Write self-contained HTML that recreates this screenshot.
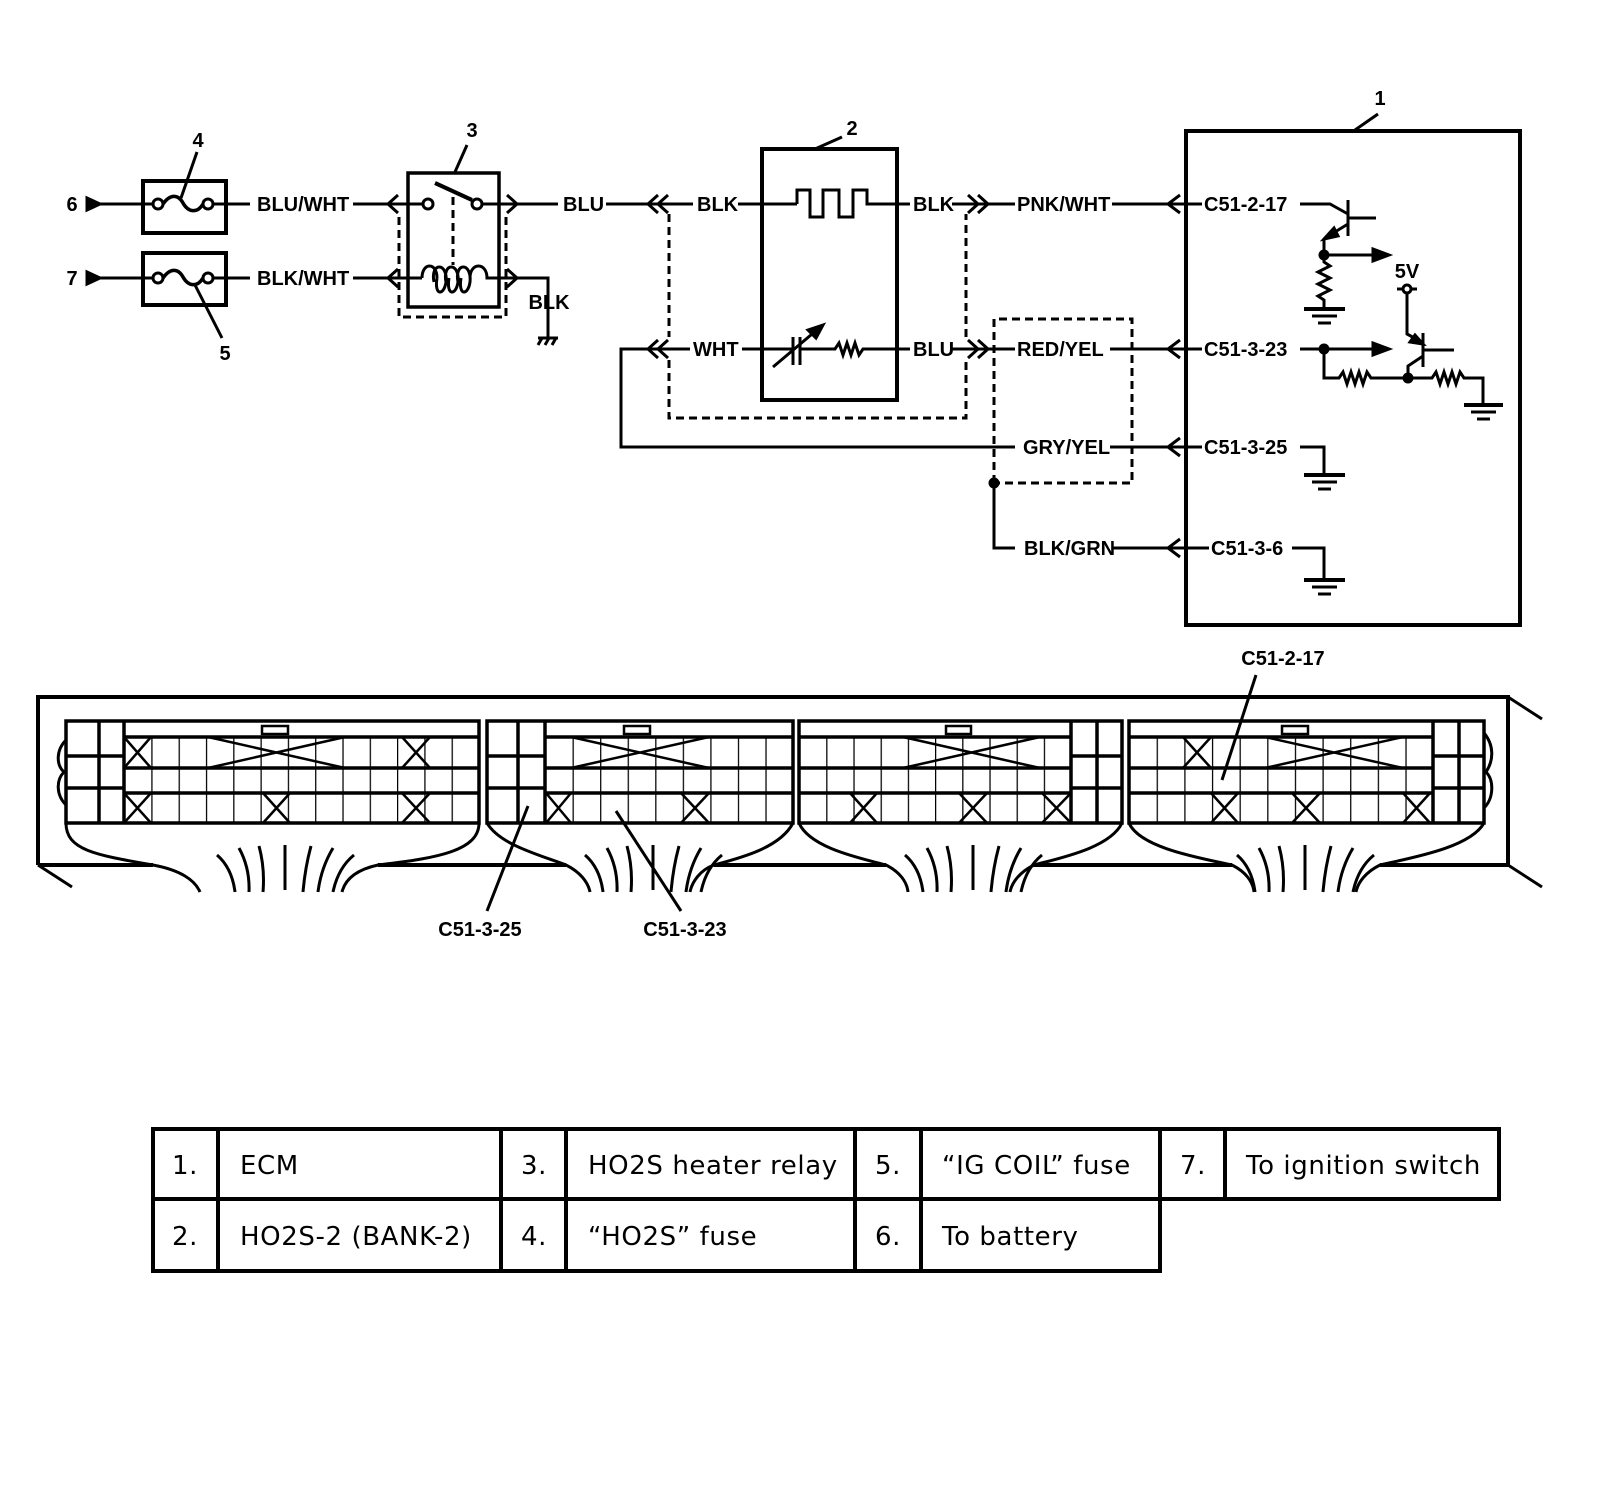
<!DOCTYPE html>
<html><head><meta charset="utf-8"><style>
html,body{margin:0;padding:0;background:#fff}
svg{display:block}
.w{font-family:"Liberation Sans",Arial,sans-serif;font-weight:bold;font-size:20px;fill:#000}
.t{font-family:"DejaVu Sans","Liberation Sans",sans-serif;font-size:26px;letter-spacing:0.6px;fill:#000}
</style></head><body>
<svg width="1600" height="1496" viewBox="0 0 1600 1496" xmlns="http://www.w3.org/2000/svg">
<defs>
<pattern id="pA" x="124" y="0" width="27.3" height="10" patternUnits="userSpaceOnUse"><line x1="0" y1="0" x2="0" y2="10" stroke="#000" stroke-width="2.5"/></pattern>
<pattern id="pB" x="545" y="0" width="27.55" height="10" patternUnits="userSpaceOnUse"><line x1="0" y1="0" x2="0" y2="10" stroke="#000" stroke-width="2.5"/></pattern>
<pattern id="pC" x="799" y="0" width="27.2" height="10" patternUnits="userSpaceOnUse"><line x1="0" y1="0" x2="0" y2="10" stroke="#000" stroke-width="2.5"/></pattern>
<pattern id="pD" x="1129" y="0" width="27.64" height="10" patternUnits="userSpaceOnUse"><line x1="0" y1="0" x2="0" y2="10" stroke="#000" stroke-width="2.5"/></pattern>
</defs>
<g fill="none" stroke="#000" stroke-width="3" stroke-linecap="butt">
<!-- row 6 -->
<polygon points="87,198 100,204 87,210" fill="#000"/>
<line x1="100" y1="204" x2="153" y2="204"/>
<rect x="143" y="181" width="83" height="52" stroke-width="4"/>
<circle cx="158" cy="204" r="5"/><circle cx="208" cy="204" r="5"/>
<path d="M163 204 C170 194,178 194,183 203 S197 214,203 204" stroke-width="3.5"/>
<line x1="213" y1="204" x2="250" y2="204"/>
<!-- row 7 -->
<polygon points="87,272 100,278 87,284" fill="#000"/>
<line x1="100" y1="278" x2="153" y2="278"/>
<rect x="143" y="253" width="83" height="52" stroke-width="4"/>
<circle cx="158" cy="278" r="5"/><circle cx="208" cy="278" r="5"/>
<path d="M163 278 C170 268,178 268,183 277 S197 288,203 278" stroke-width="3.5"/>
<line x1="213" y1="278" x2="250" y2="278"/>
<!-- leaders -->
<line x1="197" y1="152" x2="181" y2="198"/>
<line x1="222" y1="338" x2="195" y2="285"/>
<line x1="467" y1="145" x2="455" y2="172"/>
<line x1="815" y1="149" x2="842" y2="137"/>
<line x1="1355" y1="130" x2="1378" y2="114"/>
<!-- relay -->
<line x1="353" y1="204" x2="423" y2="204"/>
<path d="M398 195 L388 204 L398 213"/>
<rect x="408" y="173" width="91" height="134" stroke-width="3.5"/>
<circle cx="428" cy="204" r="5"/><circle cx="477" cy="204" r="5"/>
<line x1="435" y1="183" x2="472" y2="200" stroke-width="4"/>
<line x1="453" y1="197" x2="453" y2="265" stroke-dasharray="8,5"/>
<line x1="482" y1="204" x2="558" y2="204"/>
<path d="M507 195 L517 204 L507 213"/>
<line x1="353" y1="278" x2="422" y2="278"/>
<path d="M398 269 L388 278 L398 287"/>
<path d="M422 278 C422 262,437 262,437 278 M434 282 C430 262,448 262,446 282 C444 296,434 296,437 278 M446 282 C442 262,460 262,458 282 C456 296,446 296,449 278 M458 282 C454 262,472 262,470 282 C468 296,458 296,461 278 M470 278 C470 262,487 262,487 278 L548 278 L548 338"/>
<path d="M507 269 L517 278 L507 287"/>
<path d="M399 217 V317 H506 V217" stroke-dasharray="8,5"/>
<line x1="538" y1="338" x2="558" y2="338"/>
<path d="M538 345 L542 338 M545 345 L549 338 M552 345 L556 338"/>
<!-- sensor -->
<line x1="606" y1="204" x2="693" y2="204"/>
<path d="M658 195 L648 204 L658 213 M668 195 L658 204 L668 213"/>
<line x1="738" y1="204" x2="797" y2="204"/>
<rect x="762" y="149" width="135" height="251" stroke-width="4"/>
<path d="M797 204 V190 H810 V217 H823 V190 H839 V217 H853 V190 H867 V204 H910"/>
<line x1="952" y1="204" x2="988" y2="204"/>
<path d="M968 195 L978 204 L968 213 M978 195 L988 204 L978 213"/>
<line x1="988" y1="204" x2="1015" y2="204"/>
<line x1="1112" y1="204" x2="1168" y2="204"/>
<path d="M1180 195 L1168 204 L1180 213"/>
<line x1="1168" y1="204" x2="1202" y2="204"/>
<!-- WHT row -->
<path d="M690 349 H621 V447 H1015"/>
<path d="M658 340 L648 349 L658 358 M668 340 L658 349 L668 358"/>
<line x1="742" y1="349" x2="793" y2="349"/>
<line x1="793" y1="337" x2="793" y2="365" stroke-width="3"/>
<line x1="800" y1="337" x2="800" y2="365" stroke-width="3"/>
<line x1="773" y1="367" x2="818" y2="329"/>
<polygon points="823,325 808,330 816,338" fill="#000"/>
<path d="M800 349 H835 L839 343 L843 355 L847 343 L851 355 L855 343 L859 355 L863 349 H910"/>
<line x1="952" y1="349" x2="1015" y2="349"/>
<path d="M968 340 L978 349 L968 358 M978 340 L988 349 L978 358"/>
<line x1="1110" y1="349" x2="1168" y2="349"/>
<path d="M1180 340 L1168 349 L1180 358"/>
<line x1="1168" y1="349" x2="1202" y2="349"/>
<line x1="1110" y1="447" x2="1168" y2="447"/>
<path d="M1180 438 L1168 447 L1180 456"/>
<line x1="1168" y1="447" x2="1202" y2="447"/>
<path d="M994 483 V548 H1015"/>
<circle cx="994" cy="483" r="4" fill="#000"/>
<line x1="1112" y1="548" x2="1168" y2="548"/>
<path d="M1180 539 L1168 548 L1180 557"/>
<line x1="1168" y1="548" x2="1209" y2="548"/>
<path d="M669 214 V337 M669 360 V418 H966 V360 M966 337 V214" stroke-dasharray="8,5"/>
<path d="M994 483 V319 H1132 V483 H994" stroke-dasharray="8,5"/>
<!-- ECM -->
<rect x="1186" y="131" width="334" height="494" stroke-width="4"/>
<path d="M1300 204 H1330 L1348 214"/>
<line x1="1348" y1="200" x2="1348" y2="236" stroke-width="3"/>
<line x1="1348" y1="218" x2="1376" y2="218"/>
<line x1="1348" y1="224" x2="1330" y2="235"/>
<polygon points="1324,239 1334,228 1338,236" fill="#000"/>
<path d="M1324 239 V255 H1375"/>
<polygon points="1373,249 1389,255 1373,261" fill="#000"/>
<circle cx="1324" cy="255" r="4" fill="#000"/>
<path d="M1324 255 V262 L1330 266 L1318 272 L1330 278 L1318 284 L1330 290 L1318 296 L1324 300 V309"/>
<line x1="1304" y1="309" x2="1345" y2="309" stroke-width="4"/>
<line x1="1312" y1="316" x2="1337" y2="316"/>
<line x1="1318" y1="323" x2="1331" y2="323"/>
<circle cx="1407" cy="289" r="4"/>
<path d="M1397 289 H1403 M1411 289 H1417"/>
<path d="M1407 293 V334 L1418 340"/>
<polygon points="1423,344 1410,342 1415,335" fill="#000"/>
<line x1="1423" y1="333" x2="1423" y2="367" stroke-width="3"/>
<line x1="1423" y1="350" x2="1454" y2="350"/>
<path d="M1423 356 L1408 366 V378"/>
<path d="M1300 349 H1375"/>
<polygon points="1373,343 1389,349 1373,355" fill="#000"/>
<circle cx="1324" cy="349" r="4" fill="#000"/>
<path d="M1324 349 V378 H1339 L1343 372 L1347 384 L1351 372 L1355 384 L1359 372 L1363 384 L1367 372 L1371 378 H1432 L1436 372 L1440 384 L1444 372 L1448 384 L1452 372 L1456 384 L1460 372 L1464 378 H1483 V405"/>
<circle cx="1408" cy="378" r="4" fill="#000"/>
<line x1="1464" y1="405" x2="1503" y2="405" stroke-width="4"/>
<line x1="1471" y1="412" x2="1496" y2="412"/>
<line x1="1477" y1="419" x2="1490" y2="419"/>
<path d="M1300 447 H1324 V475"/>
<line x1="1304" y1="475" x2="1345" y2="475" stroke-width="4"/>
<line x1="1312" y1="482" x2="1337" y2="482"/>
<line x1="1318" y1="489" x2="1331" y2="489"/>
<path d="M1292 548 H1324 V580"/>
<line x1="1304" y1="580" x2="1345" y2="580" stroke-width="4"/>
<line x1="1312" y1="587" x2="1337" y2="587"/>
<line x1="1318" y1="594" x2="1331" y2="594"/>
<!-- connector outer -->
<path d="M38 865 V697 H1508 V865" stroke-width="4"/>
<path d="M1508 697 L1542 719 M1508 865 L1542 887 M38 865 L72 887" stroke-width="3"/>
<path d="M38 865 H153 M378 865 H566 M714 865 H886 M1034 865 H1232 M1380 865 H1508" stroke-width="4"/>
<!-- blocks -->
<rect x="124" y="737" width="355" height="86" fill="url(#pA)" stroke="none"/>
<rect x="545" y="737" width="248" height="86" fill="url(#pB)" stroke="none"/>
<rect x="799" y="737" width="272" height="86" fill="url(#pC)" stroke="none"/>
<rect x="1129" y="737" width="304" height="86" fill="url(#pD)" stroke="none"/>
<g stroke-width="3.5">
<rect x="66" y="721" width="413" height="102"/>
<path d="M99 721 V823 M124 721 V823 M124 737 H479 M124 768 H479 M124 793 H479 M66 756 H124 M66 788 H124"/>
<rect x="487" y="721" width="306" height="102"/>
<path d="M518 721 V823 M545 721 V823 M545 737 H793 M545 768 H793 M545 793 H793 M487 756 H545 M487 788 H545"/>
<rect x="799" y="721" width="323" height="102"/>
<path d="M1071 721 V823 M1097 721 V823 M799 737 H1071 M799 768 H1071 M799 793 H1071 M1071 756 H1122 M1071 788 H1122"/>
<rect x="1129" y="721" width="355" height="102"/>
<path d="M1433 721 V823 M1459 721 V823 M1129 737 H1433 M1129 768 H1433 M1129 793 H1433 M1433 756 H1484 M1433 788 H1484"/>
</g>
<g stroke-width="2.5">
<rect x="262" y="726" width="26" height="8"/><rect x="624" y="726" width="26" height="8"/>
<rect x="946" y="726" width="25" height="8"/><rect x="1282" y="726" width="26" height="8"/>
</g>
<g stroke-width="2.5">
<path d="M124 737 L151 768 M151 737 L124 768 M402 737 L430 768 M430 737 L402 768 M208 737 L345 768 M345 737 L208 768"/>
<path d="M124 793 L151 823 M151 793 L124 823 M263 793 L290 823 M290 793 L263 823 M402 793 L430 823 M430 793 L402 823"/>
<path d="M571 737 L709 768 M709 737 L571 768 M546 793 L571 823 M571 793 L546 823 M681 793 L709 823 M709 793 L681 823"/>
<path d="M903 737 L1040 768 M1040 737 L903 768 M850 793 L877 823 M877 793 L850 823 M959 793 L987 823 M987 793 L959 823 M1042 793 L1071 823 M1071 793 L1042 823"/>
<path d="M1183 737 L1211 768 M1211 737 L1183 768 M1265 737 L1403 768 M1403 737 L1265 768 M1211 793 L1238 823 M1238 793 L1211 823 M1292 793 L1320 823 M1320 793 L1292 823 M1403 793 L1430 823 M1430 793 L1403 823"/>
</g>
<!-- wavy sides -->
<path d="M66 740 C56 750,56 765,64 772 C56 780,56 795,66 805"/>
<path d="M1484 733 C1494 745,1494 760,1486 772 C1494 780,1494 798,1484 808"/>
<!-- bundles -->
<path d="M66 823 C66 850,95 855,153 865 C180 870,195 880,200 892 M479 823 C479 850,440 858,378 865 C355 870,345 880,342 892"/>
<path d="M487 823 C500 845,540 855,566 865 C580 872,588 882,590 892 M793 823 C780 848,740 858,714 865 C700 870,692 882,690 892"/>
<path d="M799 823 C810 848,860 858,886 865 C900 872,907 882,908 892 M1122 823 C1110 848,1060 858,1034 865 C1020 872,1012 882,1010 892"/>
<path d="M1129 823 C1140 848,1200 858,1232 865 C1246 872,1253 882,1254 892 M1484 823 C1470 848,1410 858,1380 865 C1366 872,1358 882,1356 892"/>
<g id="bA">
<path d="M217 855 Q232 868,235 892 M239 848 Q250 868,249 892 M259 846 Q265 868,263 892 M285 845 V890 M311 846 Q305 868,303 892 M333 848 Q321 868,318 892 M354 855 Q338 868,333 892"/>
</g>
<use href="#bA" transform="translate(368,0)"/>
<use href="#bA" transform="translate(688,0)"/>
<use href="#bA" transform="translate(1020,0)"/>
<!-- connector leaders -->
<line x1="1256" y1="675" x2="1222" y2="780"/>
<line x1="487" y1="911" x2="528" y2="806"/>
<line x1="681" y1="911" x2="616" y2="811"/>
<!-- table -->
<g stroke-width="4">
<rect x="153" y="1129" width="1346" height="70"/>
<rect x="153" y="1199" width="1007" height="72"/>
<path d="M218 1129 V1271 M501 1129 V1271 M566 1129 V1271 M855 1129 V1271 M921 1129 V1271 M1160 1129 V1271 M1225 1129 V1199"/>
</g>
</g>
<g class="w">
<text x="72" y="211" text-anchor="middle">6</text>
<text x="72" y="285" text-anchor="middle">7</text>
<text x="198" y="147" text-anchor="middle">4</text>
<text x="225" y="360" text-anchor="middle">5</text>
<text x="472" y="137" text-anchor="middle">3</text>
<text x="852" y="135" text-anchor="middle">2</text>
<text x="1380" y="105" text-anchor="middle">1</text>
<text x="257" y="211">BLU/WHT</text>
<text x="257" y="285">BLK/WHT</text>
<text x="563" y="211">BLU</text>
<text x="549" y="309" text-anchor="middle">BLK</text>
<text x="697" y="211">BLK</text>
<text x="913" y="211">BLK</text>
<text x="1017" y="211">PNK/WHT</text>
<text x="693" y="356">WHT</text>
<text x="913" y="356">BLU</text>
<text x="1017" y="356">RED/YEL</text>
<text x="1023" y="454">GRY/YEL</text>
<text x="1024" y="555">BLK/GRN</text>
<text x="1204" y="211">C51-2-17</text>
<text x="1204" y="356">C51-3-23</text>
<text x="1204" y="454">C51-3-25</text>
<text x="1211" y="555">C51-3-6</text>
<text x="1407" y="278" text-anchor="middle">5V</text>
<text x="1283" y="665" text-anchor="middle">C51-2-17</text>
<text x="480" y="936" text-anchor="middle">C51-3-25</text>
<text x="685" y="936" text-anchor="middle">C51-3-23</text>
</g>
<g class="t">
<text x="172" y="1174">1.</text>
<text x="240" y="1174">ECM</text>
<text x="521" y="1174">3.</text>
<text x="588" y="1174">HO2S heater relay</text>
<text x="875" y="1174">5.</text>
<text x="942" y="1174">“IG COIL” fuse</text>
<text x="1180" y="1174">7.</text>
<text x="1246" y="1174">To ignition switch</text>
<text x="172" y="1245">2.</text>
<text x="240" y="1245">HO2S-2 (BANK-2)</text>
<text x="521" y="1245">4.</text>
<text x="588" y="1245">“HO2S” fuse</text>
<text x="875" y="1245">6.</text>
<text x="942" y="1245">To battery</text>
</g>
</svg>
</body></html>
